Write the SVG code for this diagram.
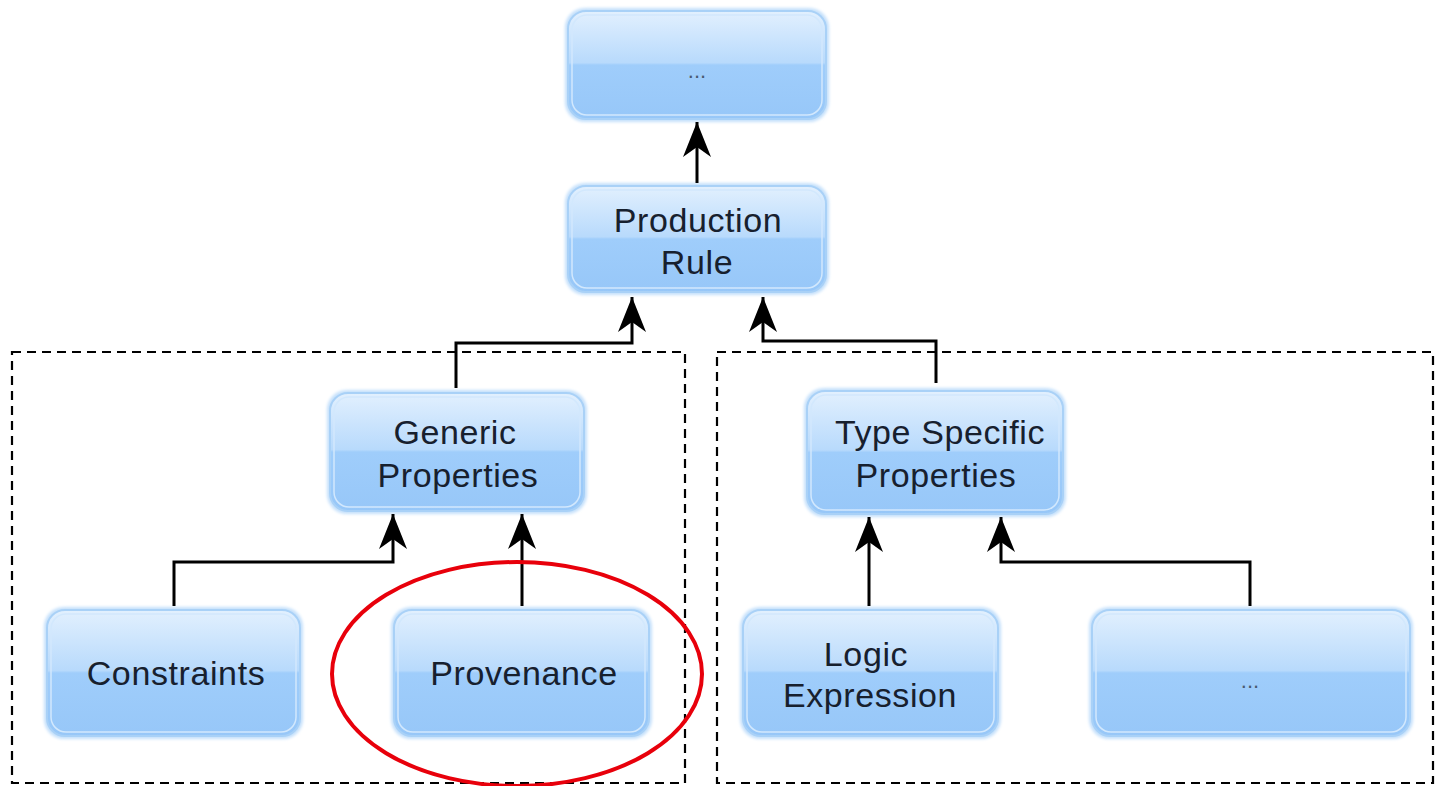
<svg xmlns="http://www.w3.org/2000/svg" width="1437" height="786" viewBox="0 0 1437 786">
  <defs>
    <linearGradient id="nodeFill" x1="0" y1="0" x2="0" y2="1">
      <stop offset="0" stop-color="#e2f0fe"/>
      <stop offset="0.48" stop-color="#b8dafc"/>
      <stop offset="0.5" stop-color="#9fcdfb"/>
      <stop offset="1" stop-color="#97c7f8"/>
    </linearGradient>
    <filter id="glow" x="-10%" y="-10%" width="120%" height="120%">
      <feGaussianBlur stdDeviation="1.5"/>
    </filter>
    <marker id="head" viewBox="0 -15 36 30" refX="35" refY="0" markerWidth="36" markerHeight="30" markerUnits="userSpaceOnUse" orient="auto">
      <path d="M35,0 L0,-14 L10,0 L0,14 Z" fill="#000"/>
    </marker>
  </defs>
  <style>
    .glow { fill: #c4e0fb; filter: url(#glow); }
    .box { fill: url(#nodeFill); stroke: #a9d1f7; stroke-width: 2; }
    .inner { fill: none; stroke: #d2e8fd; stroke-width: 1.5; }
    .label { font-family: "Liberation Sans", Arial, sans-serif; font-size: 34px; letter-spacing: 0.6px; fill: #17202e; text-anchor: middle; }
    .dots { font-family: "Liberation Sans", Arial, sans-serif; font-size: 22px; fill: #4a5a70; text-anchor: middle; }
    .link { fill: none; stroke: #000; stroke-width: 3; marker-end: url(#head); }
    .group { fill: none; stroke: #000; stroke-width: 2.2; stroke-dasharray: 9 6; }
  </style>

  <rect width="1437" height="786" fill="#fff"/>

  <!-- dashed groupings -->
  <g id="groups">
    <rect class="group" x="12" y="352" width="673" height="431"/>
    <rect class="group" x="717" y="352" width="716" height="431"/>
  </g>

  <!-- nodes -->
  <g id="node-top">
    <rect class="glow" x="565" y="8" width="264" height="114" rx="20"/>
    <rect class="box" x="568" y="11" width="258" height="108" rx="18"/>
    <rect class="inner" x="572" y="15" width="250" height="100" rx="15"/>
    <text class="dots" x="697" y="78">...</text>
  </g>

  <g id="node-production-rule">
    <rect class="glow" x="565" y="183" width="264" height="112" rx="20"/>
    <rect class="box" x="568" y="186" width="258" height="106" rx="18"/>
    <rect class="inner" x="572" y="190" width="250" height="98" rx="15"/>
    <text class="label" x="698" y="232">Production</text>
    <text class="label" x="697" y="274">Rule</text>
  </g>

  <g id="node-generic-properties">
    <rect class="glow" x="327" y="390" width="260" height="124" rx="20"/>
    <rect class="box" x="330" y="393" width="254" height="118" rx="18"/>
    <rect class="inner" x="334" y="397" width="246" height="110" rx="15"/>
    <text class="label" x="455" y="444">Generic</text>
    <text class="label" x="458" y="487">Properties</text>
  </g>

  <g id="node-type-specific-properties">
    <rect class="glow" x="804" y="388" width="262" height="129" rx="20"/>
    <rect class="box" x="807" y="391" width="256" height="123" rx="18"/>
    <rect class="inner" x="811" y="395" width="248" height="115" rx="15"/>
    <text class="label" x="940" y="444">Type Specific</text>
    <text class="label" x="936" y="487">Properties</text>
  </g>

  <g id="node-constraints">
    <rect class="glow" x="44" y="607" width="259" height="132" rx="20"/>
    <rect class="box" x="47" y="610" width="253" height="126" rx="18"/>
    <rect class="inner" x="51" y="614" width="245" height="118" rx="15"/>
    <text class="label" x="176" y="685">Constraints</text>
  </g>

  <g id="node-provenance">
    <rect class="glow" x="391" y="607" width="261" height="132" rx="20"/>
    <rect class="box" x="394" y="610" width="255" height="126" rx="18"/>
    <rect class="inner" x="398" y="614" width="247" height="118" rx="15"/>
    <text class="label" x="524" y="685">Provenance</text>
  </g>

  <g id="node-logic-expression">
    <rect class="glow" x="740" y="607" width="261" height="132" rx="20"/>
    <rect class="box" x="743" y="610" width="255" height="126" rx="18"/>
    <rect class="inner" x="747" y="614" width="247" height="118" rx="15"/>
    <text class="label" x="866" y="666">Logic</text>
    <text class="label" x="870" y="707">Expression</text>
  </g>

  <g id="node-other">
    <rect class="glow" x="1089" y="607" width="324" height="132" rx="20"/>
    <rect class="box" x="1092" y="610" width="318" height="126" rx="18"/>
    <rect class="inner" x="1096" y="614" width="310" height="118" rx="15"/>
    <text class="dots" x="1250" y="688">...</text>
  </g>

  <!-- connectors -->
  <g id="connectors">
    <path class="link" d="M697,183 L697,122"/>
    <path class="link" d="M456,388 L456,343 L632,343 L632,297"/>
    <path class="link" d="M936,383 L936,341 L763,341 L763,297"/>
    <path class="link" d="M174,606 L174,562 L393,562 L393,514"/>
    <path class="link" d="M522,606 L522,514"/>
    <path class="link" d="M869,606 L869,517"/>
    <path class="link" d="M1250,606 L1250,562 L1001,562 L1001,517"/>
  </g>

  <!-- highlight -->
  <ellipse id="highlight" cx="517" cy="674" rx="185" ry="112" fill="none" stroke="#e8000b" stroke-width="4"/>
</svg>
